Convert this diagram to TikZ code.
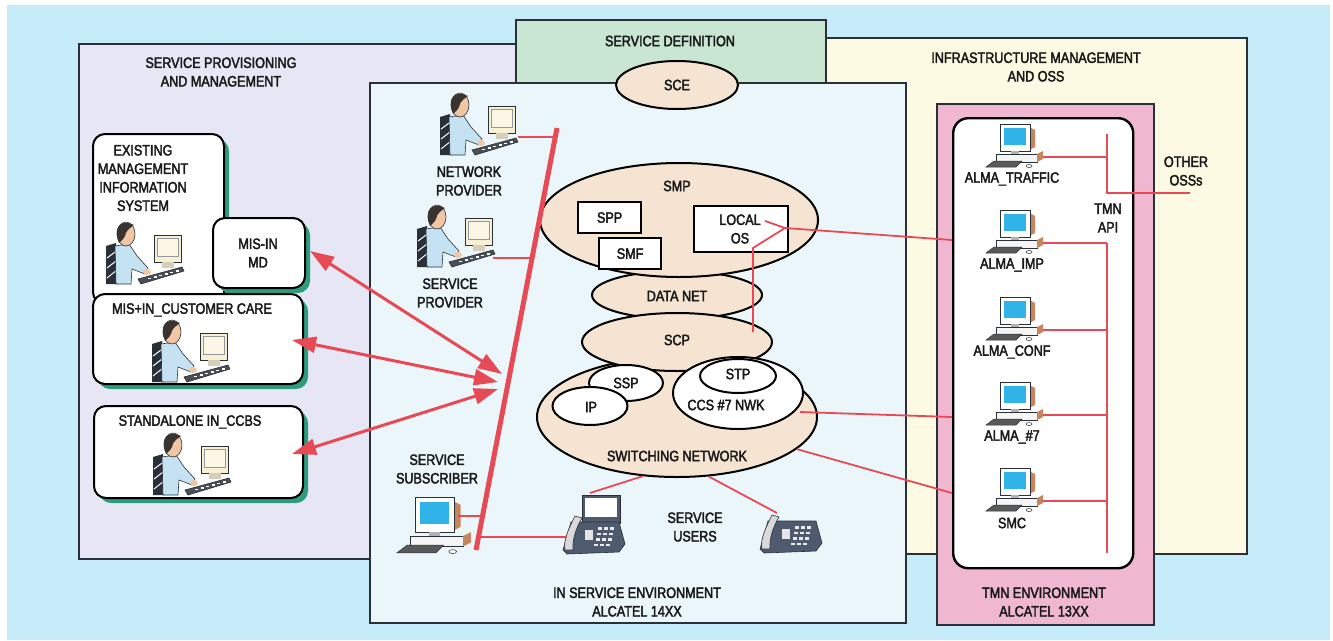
\documentclass[tikz,border=0pt]{standalone}
\usepackage{fontspec}
\setmainfont{Liberation Sans}[FakeStretch=0.84,FakeBold=2.5]
\usetikzlibrary{shapes.geometric,arrows.meta,positioning,shadows}

\definecolor{backblue}{HTML}{C6EBF9}
\definecolor{provlilac}{HTML}{E6E6F5}
\definecolor{defgreen}{HTML}{C8E6D2}
\definecolor{infracream}{HTML}{FCFAE2}
\definecolor{inpale}{HTML}{EAF6FA}
\definecolor{tmnpink}{HTML}{F0B8D0}
\definecolor{netbeige}{HTML}{F6E4D2}
\definecolor{linkred}{HTML}{E84A55}
\definecolor{boxshadow}{HTML}{2E9C7C}
\definecolor{frame}{HTML}{2A3038}
\definecolor{screenblue}{HTML}{30B4E8}
\definecolor{casebrown}{HTML}{C8845C}
\definecolor{shirt}{HTML}{C4E2F2}
\definecolor{skin}{HTML}{F0C6A4}
\definecolor{hair}{HTML}{3A3430}
\definecolor{crt}{HTML}{F8F0D4}
\definecolor{phoneslate}{HTML}{4E5A6E}

\tikzset{
  pics/pc/.style={code={
    \fill[casebrown] (29,3) -- (35,6) -- (35,23) -- (29,26) -- cycle;
    \draw[frame, line width=0.6pt, fill=white!94!crt] (0,0) rectangle (30,27);
    \fill[screenblue] (3.5,3.5) rectangle (26,21);
    \fill[gray!60] (11,27) rectangle (19,30);
    \draw[frame, line width=0.6pt, fill=white!92!gray] (-4,30) rectangle (37,38);
    \fill[casebrown] (37,30) -- (43,27) -- (43,35) -- (37,38) -- cycle;
    \draw[frame, line width=0.5pt, fill=gray!70!black] (-14,43) -- (-6,37) -- (22,37) -- (16,43) -- cycle;
    \draw[frame, line width=0.5pt, fill=white] (29,42) ellipse (3 and 1.5);
  }},
  pics/operator/.style={code={
    % chair
    \fill[frame] (-4,24) -- (6,21) -- (8,62) -- (-4,62) -- cycle;
    \draw[white, line width=1pt] (-3,36) -- (5,30) (-3,46) -- (6,39) (-3,56) -- (7,48);
    % body and arm
    \draw[frame, line width=0.6pt, fill=shirt] (5,24) -- (19,22) -- (27,34) -- (38,46) -- (35,52) -- (22,47) -- (21,62) -- (6,62) -- cycle;
    \fill[skin] (37,50) ellipse (4 and 3);
    % head
    \draw[frame, line width=0.6pt, fill=skin] (16,12) ellipse (9 and 12);
    \fill[hair] (7,14) .. controls (5,2) and (14,-2) .. (24,3) .. controls (20,6) and (16,8) .. (15,14) .. controls (13,18) and (10,20) .. (9,21) -- cycle;
    % screen
    \draw[frame, line width=0.6pt, fill=crt] (44,13) rectangle (71,40);
    \draw[frame!50, line width=0.4pt, fill=crt!60!white] (47,16) rectangle (68,34);
    \fill[crt!70!gray] (52,40) rectangle (64,46);
    % keyboard
    \draw[frame, line width=0.6pt, fill=frame!85] (28,57) -- (72,45) -- (74,49) -- (31,62) -- cycle;
    \foreach \k in {0,...,5} \fill[white] ({38+\k*5.5},{57-1.5*\k}) rectangle +(3,-1.5);
  }},
  pics/deskphone/.style={code={
    \draw[frame, line width=0.6pt, fill=phoneslate] (-2,28) -- (6,0) -- (54,0) -- (60,22) -- (54,30) -- (2,32) -- cycle;
    \draw[frame, line width=0.6pt, fill=gray!30] (0,28) .. controls (-2,18) and (4,6) .. (10,-6) -- (17,-4) .. controls (11,6) and (7,18) .. (8,28) -- cycle;
    \fill[gray!20] (20,8) rectangle (28,18);
    \foreach \r in {0,...,3} \foreach \c in {0,1,2}
      \fill[gray!15] ({33+\c*6-\r*1.2},{5+\r*5.5}) rectangle +(4,2.8);
  }}
}

\begin{document}
\begin{tikzpicture}[x=1pt,y=-1pt,
  panel/.style={draw=frame, line width=2.2pt},
  txt/.style={font=\fontsize{15}{18.5}\selectfont, align=center, inner sep=0pt, text=black!90},
  net/.style={ellipse, draw=black, line width=2pt, fill=netbeige, inner sep=0pt},
  subnet/.style={ellipse, draw=black, line width=2pt, fill=white, inner sep=0pt},
  unit/.style={rectangle, draw=black, line width=2.2pt, fill=white, inner sep=0pt, anchor=north west},
  card/.style={rectangle, rounded corners=12pt, draw=black, line width=2pt, fill=white, anchor=north west,
    drop shadow={shadow xshift=5pt, shadow yshift=-5pt, fill=boxshadow, opacity=1}},
  link/.style={draw=linkred, line width=1.8pt},
  bus/.style={draw=linkred, line width=5pt},
  flow/.style={draw=linkred, line width=3pt, <->, >={Triangle[length=24pt,width=16pt]}}]

\useasboundingbox (0,0) rectangle (1333,640);
\fill[white] (0,0) rectangle (1333,640);
\fill[backblue] (7,5) rectangle (1330,640);

% environments
\draw[panel, fill=provlilac] (79,44) rectangle (600,559);
\draw[panel, fill=infracream] (800,38) rectangle (1247,554);
\draw[panel, fill=defgreen] (516,20) rectangle (826,100);
\draw[panel, fill=inpale] (370,83) rectangle (906,623);
\draw[panel, fill=tmnpink] (937,104) rectangle (1154,625);
\node[rectangle, rounded corners=15pt, draw=black, line width=2.4pt, fill=white, anchor=north west,
  minimum width=180pt, minimum height=450pt] (tmnbox) at (952,117) {};

\node[txt] (provlabel) at (221,72) {SERVICE PROVISIONING\\AND MANAGEMENT};
\node[txt] (deflabel) at (670,41) {SERVICE DEFINITION};
\node[txt] (infralabel) at (1036,67) {INFRASTRUCTURE MANAGEMENT\\AND OSS};
\node[txt] (inlabel) at (637,602) {IN SERVICE ENVIRONMENT\\ALCATEL 14XX};
\node[txt] (tmnlabel) at (1044,602) {TMN ENVIRONMENT\\ALCATEL 13XX};

% management systems
\node[card, minimum width=131pt, minimum height=170pt] (mis) at (92,133) {};
\node[card, minimum width=210pt, minimum height=90pt] (care) at (92,293) {};
\node[card, minimum width=92pt, minimum height=70pt] (misin) at (212,217) {};
\node[card, minimum width=209pt, minimum height=92pt] (ccbs) at (93,405) {};
\node[txt] (mistext) at (143,178) {EXISTING\\MANAGEMENT\\INFORMATION\\SYSTEM};
\node[txt] (misintext) at (258,253) {MIS-IN\\MD};
\node[txt] (caretext) at (192,310) {MIS+IN\_CUSTOMER CARE};
\node[txt] (ccbstext) at (190,422) {STANDALONE IN\_CCBS};
\pic at (110,222) {operator};
\pic at (156,320) {operator};
\pic at (157,433) {operator};

% IN network elements
\node[net, minimum width=122pt, minimum height=48pt] (sce) at (677,85) {};
\node[txt] (scetext) at (sce) {SCE};
\node[net, minimum width=170pt, minimum height=48pt] (datanet) at (677,295) {};
\node[net, minimum width=280pt, minimum height=120pt] (switching) at (677,417) {};
\node[net, minimum width=190pt, minimum height=58pt] (scp) at (677,342) {};
\node[net, minimum width=278pt, minimum height=114pt] (smp) at (679,220) {};
\node[unit, minimum width=63pt, minimum height=31pt] (spp) at (577,201) {};
\node[unit, minimum width=62pt, minimum height=31pt] (smf) at (598,237) {};
\node[unit, minimum width=94pt, minimum height=46pt] (localos) at (693,205) {};
\node[subnet, minimum width=74pt, minimum height=36pt] (ssp) at (626,383) {};
\node[subnet, minimum width=75pt, minimum height=38pt] (ip) at (590,406) {};
\node[subnet, minimum width=130pt, minimum height=72pt] (ccs) at (738,393) {};
\node[subnet, minimum width=76pt, minimum height=34pt] (stp) at (738,376) {};

\node[txt] (smptext) at (677,186) {SMP};
\node[txt] (spptext) at (spp) {SPP};
\node[txt] (smftext) at (smf) {SMF};
\node[txt] (localtext) at (740,229) {LOCAL\\OS};
\node[txt] (datatext) at (677,296) {DATA NET};
\node[txt] (scptext) at (677,340) {SCP};
\node[txt] (ssptext) at (626,383) {SSP};
\node[txt] (iptext) at (591,407) {IP};
\node[txt] (stptext) at (738,374) {STP};
\node[txt] (ccstext) at (726,405) {CCS \#7 NWK};
\node[txt] (switchtext) at (677,456) {SWITCHING NETWORK};

% actors
\pic at (444,93) {operator};
\pic at (421,205) {operator};
\pic[scale=1.3] at (415,497) {pc};
\node[txt] (netprov) at (469,181) {NETWORK\\PROVIDER};
\node[txt] (servprov) at (450,293) {SERVICE\\PROVIDER};
\node[txt] (subscriber) at (437,469) {SERVICE\\SUBSCRIBER};
\node[txt] (users) at (695,527) {SERVICE\\USERS};

\draw[frame, line width=0.8pt, fill=phoneslate] (582,495) rectangle (620,523);
\fill[white] (585,498) rectangle (617,517);
\pic at (565,522) {deskphone};
\pic at (762,521) {deskphone};

% access bus
\coordinate (bustop) at (557,128);
\coordinate (busbot) at (476,550);
\coordinate (tap-np) at (555,137);
\coordinate (tap-sp) at (532,258);
\coordinate (tap-sub) at (482,516);
\coordinate (tap-ph) at (478,537);
\draw[bus] (bustop) -- (busbot);
\draw[link] (518,137) -- (tap-np);
\draw[link] (493,258) -- (tap-sp);
\draw[link] (458,516) -- (tap-sub);
\draw[link] (tap-ph) -- (567,537);
\draw[link] (switching.240) -- (590,493);
\draw[link] (switching.298) -- (777,513);

\coordinate (misin-end) at (502,374);
\coordinate (care-end) at (498,382);
\coordinate (ccbs-end) at (498,389);
\draw[flow] ([xshift=4pt,yshift=2pt]misin.east) -- (misin-end);
\draw[flow] ([xshift=-12pt,yshift=-1pt]care.east) -- (care-end);
\draw[flow] ([xshift=-12pt,yshift=-2pt]ccbs.east) -- (ccbs-end);

% TMN side
\coordinate (oshub) at (785,228);
\draw[link] (765,221) -- (oshub) -- (952,240);
\draw[link] (oshub) -- (753,248) -- (753,332);
\draw[link] (800,412) -- (952,417);
\draw[link] (switching.345) -- (952,493);

\coordinate (apitop) at (1107,134);
\coordinate (apioss) at (1107,193);
\coordinate (apimid) at (1107,243);
\coordinate (apibot) at (1107,553);
\coordinate (oss) at (1190,193);
\draw[link] (apitop) -- (apioss) -- (oss);
\draw[link] (apimid) -- (apibot);
\node[txt] (tmnapi) at (1108,218) {TMN\\API};
\node[txt] (othertext) at (1186,171) {OTHER\\OSSs};

\foreach \top/\name/\id in {124/ALMA\_TRAFFIC/traffic, 210/ALMA\_IMP/imp, 297/ALMA\_CONF/conf, 382/ALMA\_\#7/ssseven, 468/SMC/smc}{
  \pic at (1000,\top) {pc};
  \node[txt] (lbl-\id) at (1012,{\top+55}) {\name};
  \coordinate (pc-\id) at (1043,{\top+33});
  \coordinate (api-\id) at (1107,{\top+33});
  \draw[link] (pc-\id) -- (api-\id);
}

\end{tikzpicture}
\end{document}
